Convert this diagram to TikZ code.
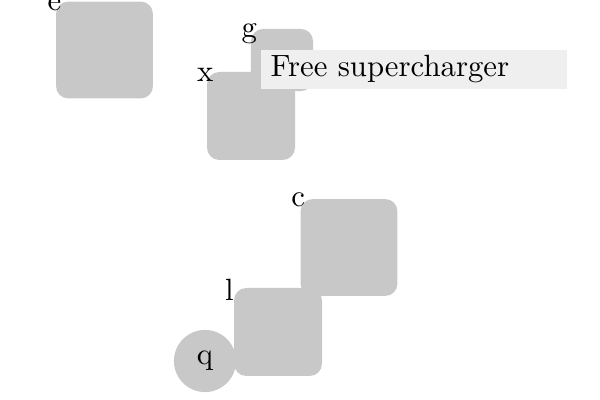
\documentclass[tikz,border=0pt]{standalone}
\usepackage{tikz}
\usetikzlibrary{positioning,shapes.geometric}
\definecolor{scBlock}{HTML}{C8C8C8}
\definecolor{scNote}{HTML}{EFEFEF}
\tikzset{
  block/.style={fill=scBlock, rounded corners=4pt, inner sep=0pt},
  bigblock/.style={block, minimum width=31.5pt, minimum height=31.5pt},
  midblock/.style={block, minimum width=28.6pt, minimum height=28.6pt},
  smallblock/.style={block, minimum width=20.2pt, minimum height=20.2pt},
  port/.style={circle, fill=scBlock, minimum size=20.2pt, inner sep=0pt},
  tag/.style={anchor=center, inner sep=0pt},
  note/.style={fill=scNote, anchor=west, minimum height=12.7pt,
    text width=93pt, inner xsep=3.25pt, inner ysep=1.5pt, align=left}
}
\begin{document}
\begin{tikzpicture}[x=0.325pt, y=-0.325pt]
  \useasboundingbox (0,0) rectangle (600,400);
  % blocks
  \node[bigblock] (e) at (104.5,50) {};
  \node[midblock] (x) at (251,116) {};
  \node[smallblock] (g) at (282,60) {};
  \node[bigblock] (c) at (349,247.5) {};
  \node[midblock] (l) at (278,332) {};
  \node[port] (q) at (205,361) {q};
  % corner tags
  \node[tag] (eTag) at ([xshift=-0.3pt, yshift=-1pt]e.north west) {e};
  \node[tag] (xTag) at ([xshift=-0.4pt, yshift=-1pt]x.north west) {x};
  \node[tag] (gTag) at ([xshift=-0.3pt, yshift=-1.6pt]g.north west) {g};
  \node[tag] (cTag) at ([xshift=-0.6pt, yshift=-0.6pt]c.north west) {c};
  \node[tag] (lTag) at ([xshift=-1.3pt, yshift=-0.8pt]l.north west) {l};
  % note
  \node[note] (gNote) at (260,69.5) {Free supercharger};
\end{tikzpicture}
\end{document}
